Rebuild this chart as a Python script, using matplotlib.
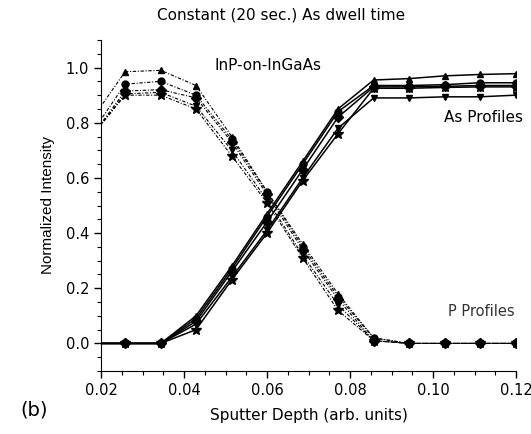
import matplotlib
matplotlib.use("Agg")
import matplotlib.pyplot as plt
from matplotlib.ticker import MultipleLocator
import numpy as np

plt.rcParams['font.family'] = ['DejaVu Sans']

depth = [0.0172, 0.0258, 0.0344, 0.0429, 0.0515, 0.0600, 0.0686, 0.0771,
         0.0857, 0.0942, 0.1028, 0.1113, 0.1199]

markers = ['^', 'o', 'D', 'v', '*']

p_profiles = [
    [0.80, 0.985, 0.99, 0.935, 0.75, 0.55, 0.36, 0.18, 0.02, 0.0, 0.0, 0.0, 0.0],
    [0.75, 0.940, 0.95, 0.900, 0.74, 0.55, 0.35, 0.17, 0.02, 0.0, 0.0, 0.0, 0.0],
    [0.74, 0.915, 0.92, 0.890, 0.73, 0.54, 0.34, 0.16, 0.01, 0.0, 0.0, 0.0, 0.0],
    [0.74, 0.905, 0.91, 0.860, 0.70, 0.52, 0.32, 0.14, 0.01, 0.0, 0.0, 0.0, 0.0],
    [0.74, 0.900, 0.90, 0.850, 0.68, 0.51, 0.31, 0.12, 0.01, 0.0, 0.0, 0.0, 0.0],
]

as_profiles = [
    [0.0, 0.0, 0.0, 0.10, 0.28, 0.47, 0.66, 0.85, 0.955, 0.960, 0.970, 0.975, 0.978],
    [0.0, 0.0, 0.0, 0.09, 0.27, 0.46, 0.65, 0.84, 0.935, 0.935, 0.938, 0.945, 0.945],
    [0.0, 0.0, 0.0, 0.08, 0.26, 0.44, 0.63, 0.82, 0.930, 0.930, 0.932, 0.935, 0.935],
    [0.0, 0.0, 0.0, 0.07, 0.24, 0.41, 0.60, 0.78, 0.890, 0.890, 0.894, 0.894, 0.900],
    [0.0, 0.0, 0.0, 0.05, 0.23, 0.40, 0.59, 0.76, 0.925, 0.925, 0.928, 0.930, 0.930],
]

W, H = 531, 434
fig = plt.figure(figsize=(W / 100, H / 100), dpi=100)
ax = fig.add_axes([101 / W, 1 - 371 / H, 415 / W, 331 / H])

for m, ys in zip(markers, p_profiles):
    ax.plot(depth, ys, color='black', lw=0.8, ls=(0, (3, 1.5, 1, 1.5)),
            marker=m, ms=5 if m != '*' else 7, mfc='black', mec='black')
for m, ys in zip(markers, as_profiles):
    ax.plot(depth, ys, color='black', lw=1.1, ls='-',
            marker=m, ms=5 if m != '*' else 7, mfc='black', mec='black')

ax.set_xlim(0.02, 0.12)
ax.set_ylim(-0.1, 1.1)
ax.set_xticks([0.02, 0.04, 0.06, 0.08, 0.10, 0.12])
ax.set_xticklabels(['0.02', '0.04', '0.06', '0.08', '0.10', '0.12'])
ax.set_yticks([0.0, 0.2, 0.4, 0.6, 0.8, 1.0])
ax.xaxis.set_minor_locator(MultipleLocator(0.005))
ax.yaxis.set_minor_locator(MultipleLocator(0.05))
ax.spines['top'].set_visible(False)
ax.spines['right'].set_visible(False)
ax.tick_params(which='major', direction='out', length=5, width=1, labelsize=10.5)
ax.tick_params(which='minor', direction='out', length=3, width=0.8)

ax.set_xlabel('Sputter Depth (arb. units)', fontsize=11, labelpad=7)
ax.set_ylabel('Normalized Intensity', fontsize=11, labelpad=8,
              family=['Liberation Sans', 'DejaVu Sans'])
fig.text(281 / W, 1 - 15 / H, 'Constant (20 sec.) As dwell time',
         ha='center', va='center', fontsize=11)
fig.text(215 / W, 1 - 66 / H, 'InP-on-InGaAs', ha='left', va='center', fontsize=11)
fig.text(523 / W, 1 - 118 / H, 'As Profiles', ha='right', va='center', fontsize=11)
fig.text(515 / W, 1 - 312 / H, 'P Profiles', ha='right', va='center', fontsize=10.5,
         color='#333333')
fig.text(20 / W, 1 - 410 / H, '(b)', ha='left', va='center', fontsize=14)

fig.savefig('out.png', dpi=100)
